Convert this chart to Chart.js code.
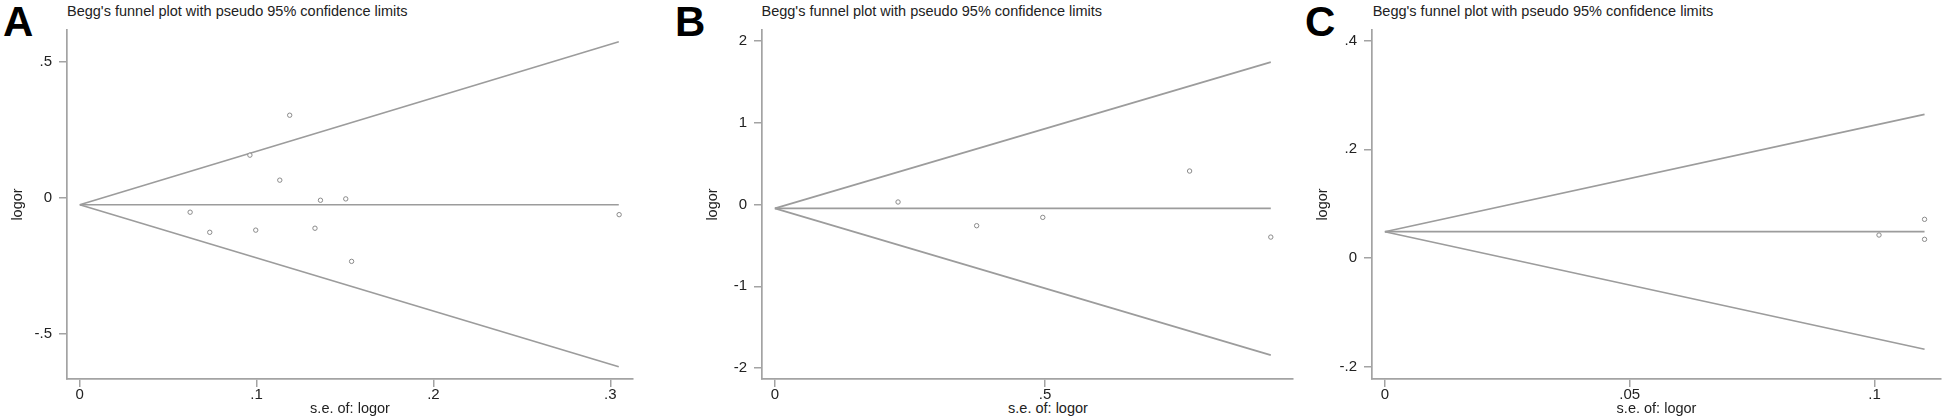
<!DOCTYPE html>
<html>
<head>
<meta charset="utf-8">
<script src="https://cdn.jsdelivr.net/npm/chart.js@4.4.0/dist/chart.umd.min.js"></script>
<style>
  body { margin: 0; background: #fff; width: 1946px; height: 420px; overflow: hidden; position: relative;
         font-family: "Liberation Sans", Arial, sans-serif; }
  canvas { position: absolute; top: 0; }
  .letter { position: absolute; top: 0.5px; font-size: 42px; line-height: 42px; font-weight: bold; color: #000; }
  .heading { position: absolute; top: 4.4px; font-size: 14.5px; line-height: 14.5px; color: #222; white-space: nowrap; }
  .caption { position: absolute; top: 399.9px; width: 200px; text-align: center; font-size: 14.5px; line-height: 17.4px; color: #222; }
</style>
</head>
<body>
<div class="letter" style="left:3px">A</div>
<div class="letter" style="left:675px">B</div>
<div class="letter" style="left:1305px">C</div>
<div class="heading" style="left:67px">Begg's funnel plot with pseudo 95% confidence limits</div>
<div class="heading" style="left:761.5px">Begg's funnel plot with pseudo 95% confidence limits</div>
<div class="heading" style="left:1372.7px">Begg's funnel plot with pseudo 95% confidence limits</div>
<div class="caption" style="left:948px">s.e. of: logor</div>

<canvas id="chartA" width="638" height="420" style="left:0px"></canvas>
<canvas id="chartB" width="603" height="420" style="left:695px"></canvas>
<canvas id="chartC" width="641" height="420" style="left:1305px"></canvas>

<script>
// ---- Panel A ----
const seA = [0.0624, 0.0735, 0.0962, 0.0995, 0.1131, 0.1187, 0.133, 0.1361, 0.1504, 0.1537, 0.305];
const logorA = [-0.054, -0.128, 0.156, -0.120, 0.064, 0.303, -0.113, -0.010, -0.005, -0.235, -0.063];
const limitSeA = [0, 0.3048];
const upperA = [-0.0265, 0.5736];
const lowerA = [-0.0265, -0.623];
const pooledA = [-0.0265, -0.0265];
const yTicksA = [0.5, 0, -0.5];
const yLabelsA = ['.5', '0', '-.5'];
const xTicksA = [0, 0.1, 0.2, 0.3];
const xLabelsA = ['0', '.1', '.2', '.3'];

// ---- Panel B ----
const seB = [0.228, 0.3735, 0.4959, 0.7677, 0.918];
const logorB = [0.031, -0.259, -0.157, 0.410, -0.398];
const limitSeB = [0, 0.918];
const upperB = [-0.047, 1.742];
const lowerB = [-0.047, -1.842];
const pooledB = [-0.047, -0.047];
const yTicksB = [2, 1, 0, -1, -2];
const yLabelsB = ['2', '1', '0', '-1', '-2'];
const xTicksB = [0, 0.5];
const xLabelsB = ['0', '.5'];

// ---- Panel C ----
const seC = [0.1009, 0.1102, 0.1102];
const logorC = [0.0423, 0.0712, 0.0344];
const limitSeC = [0, 0.1102];
const upperC = [0.0484, 0.2645];
const lowerC = [0.0484, -0.168];
const pooledC = [0.0484, 0.0484];
const yTicksC = [0.4, 0.2, 0, -0.2];
const yLabelsC = ['.4', '.2', '0', '-.2'];
const xTicksC = [0, 0.05, 0.1];
const xLabelsC = ['0', '.05', '.1'];

const AXIS = '#a3a3a3';
const LINE = '#9c9c9c';
const MARK = '#8a8a8a';
const INK = '#222';

Chart.defaults.font.family = '"Liberation Sans", Arial, sans-serif';

const toPoints = (xs, ys) => xs.map((x, i) => ({ x: x, y: ys[i] }));

function funnelChart(id, p) {
    const lineStyle = { showLine: true, pointRadius: 0, borderColor: LINE, borderWidth: 1.7, tension: 0, fill: false };
    return new Chart(document.getElementById(id), {
        type: 'scatter',
        data: {
            datasets: [
                { data: toPoints(p.se, p.logor), showLine: false, pointRadius: 2.2, pointBorderWidth: 1,
                  pointBorderColor: MARK, pointBackgroundColor: '#fff' },
                { data: toPoints(p.limitSe, p.upper), ...lineStyle },
                { data: toPoints(p.limitSe, p.lower), ...lineStyle },
                { data: toPoints(p.limitSe, p.pooled), ...lineStyle }
            ]
        },
        options: {
            responsive: false,
            animation: false,
            devicePixelRatio: 1,
            layout: { padding: { top: 30, left: 0, right: 0, bottom: 0 } },
            plugins: { legend: { display: false }, tooltip: { enabled: false } },
            scales: {
                x: {
                    type: 'linear', min: p.xRange[0], max: p.xRange[1],
                    afterBuildTicks: s => { s.ticks = p.xTicks.map(v => ({ value: v })); },
                    afterFit: s => { s.height = 41; },
                    grid: { drawOnChartArea: false, drawTicks: true, tickLength: 8, color: AXIS, lineWidth: 1.5 },
                    border: { display: true, color: AXIS, width: 1.7 },
                    ticks: { color: INK, font: { size: 15, lineHeight: 1 }, padding: 0, maxRotation: 0, autoSkip: false,
                             callback: (v, i) => p.xLabels[i] },
                    title: { display: p.xTitle, text: 's.e. of: logor', color: INK, font: { size: 14.5 },
                             padding: { top: 0, bottom: 2.7 } }
                },
                y: {
                    type: 'linear', min: p.yRange[0], max: p.yRange[1],
                    afterBuildTicks: s => { s.ticks = p.yTicks.map(v => ({ value: v })); },
                    afterFit: s => { s.width = 67; },
                    grid: { drawOnChartArea: false, drawTicks: true, tickLength: 8, color: AXIS, lineWidth: 1.5 },
                    border: { display: true, color: AXIS, width: 1.7 },
                    ticks: { color: INK, font: { size: 15 }, padding: 7, autoSkip: false,
                             callback: (v, i) => p.yLabels[i] },
                    title: { display: true, text: 'logor', color: INK, font: { size: 14.5 },
                             padding: { top: 9.3, bottom: 0 } }
                }
            }
        }
    });
}

funnelChart('chartA', {
    se: seA, logor: logorA, limitSe: limitSeA, upper: upperA, lower: lowerA, pooled: pooledA,
    xTicks: xTicksA, xLabels: xLabelsA, yTicks: yTicksA, yLabels: yLabelsA,
    xRange: [-0.00723, 0.31284], yRange: [-0.668, 0.6167], xTitle: true
});
funnelChart('chartB', {
    se: seB, logor: logorB, limitSe: limitSeB, upper: upperB, lower: lowerB, pooled: pooledB,
    xTicks: xTicksB, xLabels: xLabelsB, yTicks: yTicksB, yLabels: yLabelsB,
    xRange: [-0.02384, 0.9591], yRange: [-2.134, 2.135], xTitle: false
});
funnelChart('chartC', {
    se: seC, logor: logorC, limitSe: limitSeC, upper: upperC, lower: lowerC, pooled: pooledC,
    xTicks: xTicksC, xLabels: xLabelsC, yTicks: yTicksC, yLabels: yLabelsC,
    xRange: [-0.00263, 0.11356], yRange: [-0.2227, 0.4197], xTitle: true
});
</script>
</body>
</html>
